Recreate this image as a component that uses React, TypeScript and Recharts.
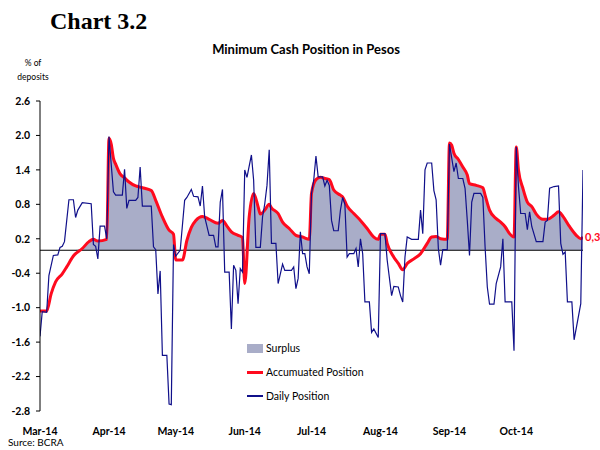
import {
  ComposedChart,
  Area,
  Line,
  XAxis,
  YAxis,
  ReferenceLine,
  ReferenceDot,
} from 'recharts'

// day 0 = 1 Mar 2014, one point per calendar day where the line turns
const monthTicks = [0, 31, 61, 92, 122, 153, 184, 214]
const monthLabels = ['Mar-14', 'Apr-14', 'May-14', 'Jun-14', 'Jul-14', 'Aug-14', 'Sep-14', 'Oct-14']
const yTicks = [-2.8, -2.2, -1.6, -1.0, -0.4, 0.2, 0.8, 1.4, 2.0, 2.6]
const lastLabel = '0,3'

const dailyPosition: [number, number][] = [
  [0, -1.5], [1, -1.07], [3, -1.08], [4, -0.44], [6, -0.09], [8, -0.08], [9, 0.05], [10, 0.07],
  [11, 0.15], [13, 0.88], [15, 0.88], [16, 0.57], [17, 0.7], [19, 0.83], [23, 0.81], [24, 0.1],
  [25, 0.07], [26, -0.15], [27, 0.42], [29, 0.42], [30, 0.2], [31, 1.98], [33, 1.02], [34, 0.96],
  [37, 0.96], [38, 1.41], [39, 0.73], [40, 0.87], [43, 0.87], [44, 0.92], [45, 1.45], [46, 0.77],
  [50, 0.77], [51, 0.06], [52, 0.01], [53, -0.76], [54, -0.36], [55, -1.83], [57, -1.83], [58, -2.68],
  [59, -2.69], [60, 0.1], [61, -0.1], [63, 0.0], [65, 0.87], [66, 0.92], [68, 1.06], [69, 0.94],
  [71, 0.93], [72, 0.77], [73, 1.12], [74, 0.58], [76, 0.26], [78, 0.26], [79, 0.06], [80, 0.06],
  [81, 0.84], [82, 1.06], [83, -0.38], [85, -0.38], [86, -1.37], [87, -0.26], [88, -0.35], [89, -0.93],
  [90, -0.32], [91, -0.38], [92, 1.4], [93, 1.27], [95, 1.66], [96, 1.22], [97, 0.05], [99, 0.05],
  [100, 0.58], [101, 0.81], [102, 1.13], [103, 1.75], [104, 0.12], [106, 0.12], [107, -0.58], [109, -0.24],
  [110, -0.35], [113, -0.35], [114, -0.29], [115, -0.67], [116, -0.49], [117, 0.32], [118, -0.06], [119, -0.06],
  [120, -0.29], [121, -0.41], [122, 0.99], [123, 1.22], [124, 1.64], [125, 1.28], [127, 1.28], [128, 1.12],
  [129, 1.22], [130, 1.13], [131, 0.52], [132, 0.34], [134, 0.34], [135, 0.7], [136, 0.92], [137, 0.8],
  [138, -0.12], [139, -0.06], [141, -0.06], [142, 0.03], [143, -0.29], [144, 0.2], [145, -0.06], [146, -0.9],
  [148, -0.9], [149, -1.43], [150, -1.37], [152, -1.52], [153, 0.29], [155, 0.29], [156, -0.17], [158, -0.79],
  [159, -0.63], [161, -0.64], [162, -0.79], [163, -0.9], [164, -0.12], [165, 0.23], [167, 0.19], [170, 0.19],
  [171, 0.7], [172, 0.29], [173, 1.4], [174, 1.52], [176, 1.52], [177, 1.04], [178, 0.88], [179, 0.03],
  [180, -0.26], [181, 0.01], [183, 0.01], [184, 1.85], [186, 1.37], [187, 1.52], [188, 1.25], [190, 1.25],
  [191, 1.08], [192, 0.52], [193, -0.09], [194, 0.84], [195, 0.99], [198, 0.99], [199, 0.92], [200, 0.06],
  [201, -0.64], [202, -0.94], [204, -0.94], [205, -0.58], [207, -0.29], [208, 0.2], [209, -0.9], [212, -0.9],
  [213, -1.75], [214, 1.8], [215, 1.11], [216, 0.64], [218, 0.64], [219, 0.36], [220, 0.67], [221, 0.41],
  [223, 0.15], [226, 0.15], [227, 0.49], [228, 0.52], [229, 1.08], [231, 1.11], [233, 1.12], [234, 0.12],
  [235, -0.07], [236, -0.03], [237, -0.9], [239, -0.9], [240, -1.56], [243, -0.93], [244, 1.4],
]

const accumulatedPosition: [number, number][] = [
  [0, -1.06], [3, -1.06], [5, -0.76], [7, -0.55], [10, -0.41], [12, -0.29], [15, -0.1], [19, 0.03],
  [22, 0.15], [24, 0.19], [26, 0.16], [30, 0.19], [31, 1.95], [32, 1.85], [33, 1.6], [34, 1.5],
  [36, 1.33], [38, 1.26], [40, 1.19], [43, 1.12], [45, 1.1], [47, 1.08], [50, 1.04], [52, 0.87],
  [55, 0.58], [58, 0.35], [60, 0.28], [61, -0.17], [64, -0.17], [66, 0.17], [68, 0.4], [70, 0.52],
  [73, 0.59], [76, 0.54], [80, 0.47], [82, 0.52], [84, 0.42], [86, 0.32], [89, 0.26], [91, 0.22],
  [92, -0.58], [94, 0.58], [96, 0.99], [98, 0.76], [99, 0.63], [101, 0.7], [103, 0.8], [104, 0.74],
  [107, 0.64], [109, 0.49], [112, 0.38], [115, 0.26], [118, 0.23], [121, 0.19], [122, 0.99], [124, 1.23],
  [126, 1.27], [128, 1.25], [130, 1.23], [132, 1.05], [135, 0.96], [136, 0.93], [138, 0.77], [141, 0.64],
  [144, 0.52], [147, 0.38], [150, 0.23], [152, 0.19], [153, 0.28], [155, 0.28], [156, 0.12], [159, -0.12],
  [161, -0.23], [163, -0.34], [165, -0.23], [168, -0.15], [171, -0.06], [174, 0.12], [176, 0.23], [178, 0.24],
  [180, 0.2], [183, 0.19], [184, 1.87], [185, 1.83], [186, 1.69], [188, 1.58], [190, 1.45], [192, 1.31],
  [193, 1.16], [196, 1.13], [199, 1.09], [200, 0.96], [202, 0.7], [205, 0.55], [207, 0.49], [209, 0.41],
  [211, 0.29], [213, 0.23], [214, 1.8], [215, 1.4], [217, 1.08], [219, 0.84], [221, 0.76], [223, 0.63],
  [226, 0.54], [228, 0.54], [231, 0.61], [233, 0.67], [235, 0.59], [238, 0.41], [241, 0.26], [243, 0.2],
  [244, 0.23],
]

const dailyData = dailyPosition.map(([day, v]) => ({ day, v }))
const accData = accumulatedPosition.map(([day, v]) => ({ day, v }))
const surplusData = accumulatedPosition.map(([day, v]) => ({ day, v: Math.max(0, v) }))
const lastPoint = accumulatedPosition[accumulatedPosition.length - 1]

const SANS = 'Lato, "Open Sans", sans-serif'
const NAVY = '#10108a'
const RED = '#ff0a1e'
const SURPLUS = '#a9adc8'

const MonthTick = ({ x, y, payload }: any) => {
  const i = monthTicks.indexOf(payload.value)
  return (
    <text x={x} y={y} textAnchor="middle" fontFamily={SANS} fontWeight={700} fontSize={10.5} fill="#000">
      {monthLabels[i]}
    </text>
  )
}

const LegendBox = () => (
  <div style={{ position: 'absolute', left: 247, top: 338, fontFamily: SANS, fontSize: 10.5, color: '#000' }}>
    <div style={{ display: 'flex', alignItems: 'center', height: 20 }}>
      <span style={{ width: 16, height: 9, background: SURPLUS, marginRight: 3 }} />
      Surplus
    </div>
    <div style={{ display: 'flex', alignItems: 'center', height: 24, marginTop: 2 }}>
      <span style={{ width: 16, height: 3, background: RED, marginRight: 3 }} />
      Accumuated Position
    </div>
    <div style={{ display: 'flex', alignItems: 'center', height: 24 }}>
      <span style={{ width: 16, height: 1.2, background: NAVY, marginRight: 3 }} />
      Daily Position
    </div>
  </div>
)

export default function App() {
  return (
    <div style={{ position: 'absolute', left: 0, top: 0, width: 600, height: 450, background: '#fff', overflow: 'hidden' }}>
      <div style={{ position: 'absolute', left: 50, top: 8, fontFamily: '"Liberation Serif", "Times New Roman", serif', fontWeight: 700, fontSize: 24 }}>
        Chart 3.2
      </div>
      <div style={{ position: 'absolute', left: 0, width: 612, top: 41, textAlign: 'center', fontFamily: SANS, fontWeight: 700, fontSize: 13 }}>
        Minimum Cash Position in Pesos
      </div>
      <div style={{ position: 'absolute', left: 8, width: 50, top: 56, textAlign: 'center', fontFamily: SANS, fontSize: 8.5, lineHeight: '14px' }}>
        % of
        <br />
        deposits
      </div>
      <div style={{ position: 'absolute', left: 8, top: 436, fontFamily: SANS, fontSize: 10, lineHeight: '13px' }}>Surce: BCRA</div>

      <ComposedChart width={600} height={450} margin={{ top: 101, right: 17, left: 8, bottom: 9 }} style={{ position: 'absolute', left: 0, top: 0 }}>
        <XAxis
          dataKey="day"
          type="number"
          domain={[0, 244]}
          ticks={monthTicks}
          tick={<MonthTick />}
          axisLine={false}
          tickLine={false}
          height={30}
          tickMargin={18}
          interval={0}
          allowDataOverflow
        />
        <YAxis
          type="number"
          domain={[-2.8, 2.6]}
          ticks={yTicks}
          interval={0}
          width={32}
          tickSize={4}
          tickMargin={6}
          tickFormatter={(v: number) => v.toFixed(1)}
          tick={{ fontFamily: SANS, fontWeight: 700, fontSize: 10.5, fill: '#000' }}
          axisLine={{ stroke: '#000' }}
          tickLine={{ stroke: '#000' }}
          allowDataOverflow
        />
        <Area
          data={surplusData}
          dataKey="v"
          type="monotone"
          fill={SURPLUS}
          fillOpacity={1}
          stroke="none"
          baseValue={0}
          isAnimationActive={false}
          name="Surplus"
        />
        <ReferenceLine y={0} stroke="#000" strokeWidth={1.2} />
        <Line
          data={accData}
          dataKey="v"
          type="monotone"
          stroke={RED}
          strokeWidth={3}
          dot={false}
          isAnimationActive={false}
          name="Accumuated Position"
        />
        <Line
          data={dailyData}
          dataKey="v"
          type="linear"
          stroke={NAVY}
          strokeWidth={1.2}
          dot={false}
          isAnimationActive={false}
          name="Daily Position"
        />
        <ReferenceDot
          x={lastPoint[0]}
          y={lastPoint[1]}
          r={0}
          label={{ value: lastLabel, position: 'right', fill: RED, fontWeight: 700, fontSize: 11, fontFamily: SANS, offset: 2 }}
        />
      </ComposedChart>
      <LegendBox />
    </div>
  )
}
